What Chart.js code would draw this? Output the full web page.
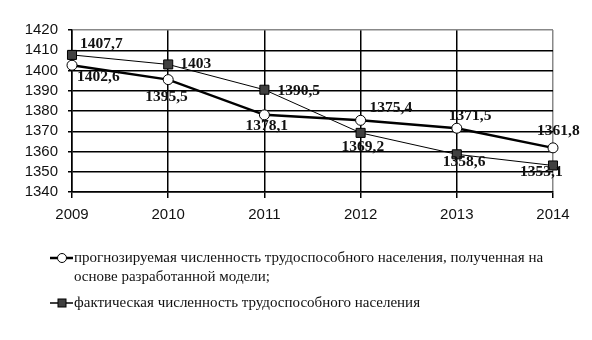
<!DOCTYPE html>
<html lang="ru">
<head>
<meta charset="UTF-8">
<title>Численность трудоспособного населения</title>
<script src="https://cdn.jsdelivr.net/npm/chart.js@4.4.3/dist/chart.umd.min.js"></script>
<style>
  html, body { margin: 0; padding: 0; background: #fff; }
  #wrap { position: relative; width: 592px; height: 340px; }
</style>
</head>
<body>
<div id="wrap"><canvas id="chart" width="592" height="340"></canvas></div>
<script>
const years = ['2009', '2010', '2011', '2012', '2013', '2014'];
const forecast = [1402.6, 1395.5, 1378.1, 1375.4, 1371.5, 1361.8];
const actual = [1407.7, 1403, 1390.5, 1369.2, 1358.6, 1353.1];
const forecastLabel = 'прогнозируемая численность трудоспособного населения, полученная на основе разработанной модели;';
const actualLabel = 'фактическая численность трудоспособного населения';
const legendLines = [
  ['прогнозируемая численность трудоспособного населения, полученная на', 'основе разработанной модели;'],
  ['фактическая численность трудоспособного населения']
];

// label offsets from the point, px (dx, dy to the text's left / middle)
const forecastOffsets = [[5, 12], [-23, 17], [-19, 11], [9, -12], [-8, -12], [-16, -17]];
const actualOffsets = [[8, -11], [12, 0], [13, 1], [-19, 14], [-14, 8], [-33, 7]];

const fmt = v => String(v).replace('.', ',');

const labelPlugin = {
  id: 'pointLabels',
  afterDatasetsDraw(chart) {
    const ctx = chart.ctx;
    ctx.save();
    ctx.font = 'bold 15.5px "Liberation Serif"';
    ctx.fillStyle = '#111';
    ctx.textBaseline = 'middle';
    ctx.textAlign = 'left';
    [[0, forecast, forecastOffsets], [1, actual, actualOffsets]].forEach(([di, vals, offs]) => {
      chart.getDatasetMeta(di).data.forEach((pt, i) => {
        ctx.fillText(fmt(vals[i]), pt.x + offs[i][0], pt.y + offs[i][1]);
      });
    });
    ctx.restore();
  }
};

const legendPlugin = {
  id: 'bottomLegend',
  afterDraw(chart) {
    const ctx = chart.ctx;
    ctx.save();
    ctx.font = '15px "Liberation Serif"';
    ctx.textBaseline = 'middle';
    const rows = [258, 303];
    rows.forEach((y, k) => {
      ctx.strokeStyle = '#000';
      ctx.lineWidth = k === 0 ? 2.5 : 1.5;
      ctx.beginPath(); ctx.moveTo(50, y); ctx.lineTo(73, y); ctx.stroke();
      ctx.lineWidth = 1;
      if (k === 0) {
        ctx.fillStyle = '#fff';
        ctx.beginPath(); ctx.arc(62, y, 4.5, 0, Math.PI * 2); ctx.fill(); ctx.stroke();
      } else {
        ctx.fillStyle = '#404040';
        ctx.fillRect(58, y - 4, 8, 8); ctx.strokeRect(58, y - 4, 8, 8);
      }
      ctx.fillStyle = '#111';
      legendLines[k].forEach((line, j) => ctx.fillText(line, 74, y + j * 19));
    });
    ctx.restore();
  }
};

const lastGray = (ctx, n) => ctx.index === n ? '#888' : '#000';

new Chart(document.getElementById('chart'), {
  type: 'line',
  data: {
    labels: years,
    datasets: [
      {
        label: forecastLabel,
        data: forecast,
        borderColor: '#000',
        borderWidth: 2.5,
        pointStyle: 'circle',
        pointRadius: 5,
        pointBackgroundColor: '#fff',
        pointBorderColor: '#000',
        pointBorderWidth: 1,
        tension: 0,
        order: 1
      },
      {
        label: actualLabel,
        data: actual,
        borderColor: '#000',
        borderWidth: 1,
        pointStyle: 'rect',
        pointRadius: 6.4,
        pointBackgroundColor: '#404040',
        pointBorderColor: '#000',
        pointBorderWidth: 1,
        tension: 0,
        order: 0
      }
    ]
  },
  options: {
    responsive: false,
    animation: false,
    layout: { padding: { left: 0, right: 39, top: 30, bottom: 118 } },
    plugins: { legend: { display: false }, tooltip: { enabled: false } },
    scales: {
      x: {
        offset: false,
        grid: { offset: false, color: c => lastGray(c, 5), lineWidth: 1.5, tickLength: 6, tickColor: '#000' },
        border: { display: true, color: '#000', width: 1.5 },
        ticks: { color: '#111', font: { family: 'Liberation Sans', size: 15 }, padding: 8, maxRotation: 0 },
        afterFit: s => { s.height = 30; }
      },
      y: {
        min: 1340,
        max: 1420,
        grid: { color: c => lastGray(c, 8), lineWidth: 1.5, tickLength: 4, tickColor: '#000' },
        border: { display: true, color: '#000', width: 1.5 },
        ticks: {
          stepSize: 10,
          autoSkip: false,
          color: '#111',
          font: { family: 'Liberation Sans', size: 15 },
          padding: 10,
          callback: v => String(v)
        },
        afterFit: s => { s.width = 72; }
      }
    }
  },
  plugins: [labelPlugin, legendPlugin]
});
</script>
</body>
</html>
